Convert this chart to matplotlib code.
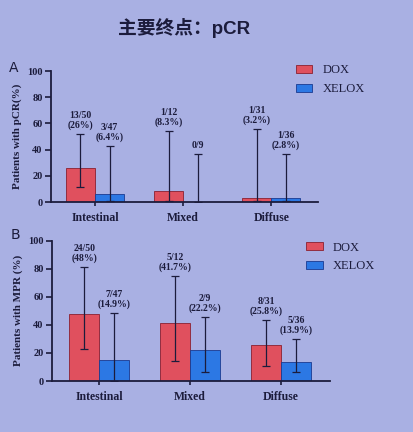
import numpy as np
import matplotlib.pyplot as plt

plt.rcParams['font.family'] = ['Liberation Serif', 'DejaVu Serif']

categories = ['Intestinal', 'Mixed', 'Diffuse']
series = ['DOX', 'XELOX']

# panel A: pCR
pcr_dox = [26, 8.3, 3.2]
pcr_xelox = [6.4, 0, 2.8]
pcr_dox_lo = [11.5, 0.5, 0.5]
pcr_dox_hi = [52, 54, 56]
pcr_xelox_lo = [0.5, 0, 0.5]
pcr_xelox_hi = [42.5, 37, 36.5]
pcr_dox_txt = ['13/50\n(26%)', '1/12\n(8.3%)', '1/31\n(3.2%)']
pcr_xelox_txt = ['3/47\n(6.4%)', '0/9', '1/36\n(2.8%)']

# panel B: MPR
mpr_dox = [48, 41.7, 25.8]
mpr_xelox = [14.9, 22.2, 13.9]
mpr_dox_lo = [23, 14.5, 11]
mpr_dox_hi = [81, 74.5, 43.5]
mpr_xelox_lo = [0, 6.6, 6.6]
mpr_xelox_hi = [48.3, 45.5, 29.8]
mpr_dox_txt = ['24/50\n(48%)', '5/12\n(41.7%)', '8/31\n(25.8%)']
mpr_xelox_txt = ['7/47\n(14.9%)', '2/9\n(22.2%)', '5/36\n(13.9%)']

bg = '#a9b0e3'
red = '#e0505e'
blue = '#2c78e4'
ink = '#1c1c3c'

fig = plt.figure(figsize=(4.14, 4.32), dpi=100)
fig.patch.set_facecolor(bg)

fig.text(0.445, 0.935, '主要终点：pCR', ha='center', va='center', fontsize=13.5,
         fontweight='bold', color=ink, family=['Liberation Sans', 'Noto Sans CJK SC'])


def panel(rect, xlim, dox, xel, dlo, dhi, xlo, xhi, dtxt, xtxt, ylabel, letter,
          letter_pos, leg_anchor):
    ax = fig.add_axes(rect)
    ax.set_facecolor('none')
    x = np.arange(len(categories))
    w = 0.33
    ax.bar(x - w / 2, dox, w, color=red, edgecolor='#8a2030', lw=0.6, label=series[0], zorder=2)
    ax.bar(x + w / 2, xel, w, color=blue, edgecolor='#1a3a90', lw=0.6, label=series[1], zorder=2)
    d = np.array(dox, float)
    e = np.array(xel, float)
    ax.errorbar(x - w / 2, d, yerr=[d - np.array(dlo), np.array(dhi) - d], fmt='none',
                ecolor=ink, elinewidth=0.9, capsize=3, capthick=0.9, zorder=3)
    ax.errorbar(x + w / 2, e, yerr=[e - np.array(xlo), np.array(xhi) - e], fmt='none',
                ecolor=ink, elinewidth=0.9, capsize=3, capthick=0.9, zorder=3)
    for i in range(len(categories)):
        ax.text(x[i] - w / 2, dhi[i] + 3, dtxt[i], ha='center', va='bottom', fontsize=7,
                fontweight='bold', color=ink, linespacing=1.05)
        ax.text(x[i] + w / 2, xhi[i] + 3, xtxt[i], ha='center', va='bottom', fontsize=7,
                fontweight='bold', color=ink, linespacing=1.05)
    ax.set_ylim(0, 100)
    ax.set_xlim(*xlim)
    ax.set_yticks([0, 20, 40, 60, 80, 100])
    ax.set_xticks(x)
    ax.set_xticklabels(categories, fontsize=8.5, fontweight='bold', color=ink)
    for t in ax.get_yticklabels():
        t.set_fontsize(7.5)
        t.set_fontweight('bold')
        t.set_color(ink)
    ax.tick_params(axis='both', colors=ink, width=1.2, length=4, pad=2)
    ax.tick_params(axis='x', length=3, pad=4)
    for s in ['top', 'right']:
        ax.spines[s].set_visible(False)
    for s in ['left', 'bottom']:
        ax.spines[s].set_color(ink)
        ax.spines[s].set_linewidth(1.3)
    ax.set_ylabel(ylabel, fontsize=8, fontweight='bold', color=ink, labelpad=4)
    fig.text(letter_pos[0], letter_pos[1], letter, fontsize=10, color=ink,
             family='DejaVu Sans', ha='center', va='center')
    leg = fig.legend(handles=ax.containers[:2], labels=series, loc='upper left',
                     bbox_to_anchor=leg_anchor, frameon=False, fontsize=9,
                     handlelength=1.3, handleheight=0.6, labelspacing=0.55, handletextpad=0.8)
    for t in leg.get_texts():
        t.set_color(ink)
    return ax


panel([0.123, 0.5324, 0.645, 0.3032], (-0.5, 2.53), pcr_dox, pcr_xelox,
      pcr_dox_lo, pcr_dox_hi, pcr_xelox_lo, pcr_xelox_hi, pcr_dox_txt, pcr_xelox_txt,
      'Patients with pCR(%)', 'A', (0.034, 0.843), (0.688, 0.877))

panel([0.1256, 0.118, 0.6715, 0.3248], (-0.52, 2.54), mpr_dox, mpr_xelox,
      mpr_dox_lo, mpr_dox_hi, mpr_xelox_lo, mpr_xelox_hi, mpr_dox_txt, mpr_xelox_txt,
      'Patients with MPR (%)', 'B', (0.037, 0.455), (0.713, 0.467))

fig.savefig('out.png', dpi=100, facecolor=bg)
